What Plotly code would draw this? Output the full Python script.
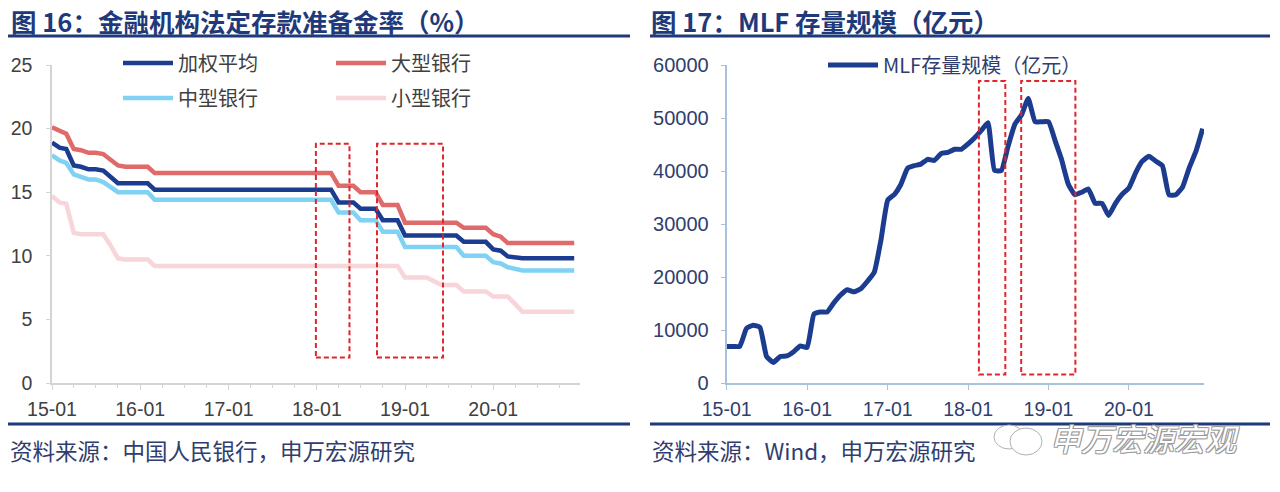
import pandas as pd
import plotly.graph_objects as go

# monthly, 2015-01 .. 2020-12
months = pd.date_range("2015-01-01", periods=72, freq="MS")

# 法定存款准备金率 (%)
rrr_avg = [18.9, 18.5, 18.4, 17.1, 17.0, 16.8, 16.8, 16.7, 16.2, 15.7, 15.7, 15.7, 15.7, 15.7,
           15.2, 15.2, 15.2, 15.2, 15.2, 15.2, 15.2, 15.2, 15.2, 15.2, 15.2, 15.2, 15.2, 15.2,
           15.2, 15.2, 15.2, 15.2, 15.2, 15.2, 15.2, 15.2, 15.2, 15.2, 15.2, 14.2, 14.2, 14.2,
           13.7, 13.7, 13.7, 12.8, 12.8, 12.8, 11.6, 11.6, 11.6, 11.6, 11.6, 11.6, 11.6, 11.6,
           11.1, 11.1, 11.1, 11.1, 10.5, 10.4, 9.95, 9.85, 9.8, 9.8, 9.8, 9.8, 9.8, 9.8, 9.8, 9.8]
rrr_large = [20.1, 19.8, 19.6, 18.4, 18.3, 18.1, 18.1, 18.0, 17.5, 17.1, 17.0, 17.0, 17.0, 17.0,
             16.5, 16.5, 16.5, 16.5, 16.5, 16.5, 16.5, 16.5, 16.5, 16.5, 16.5, 16.5, 16.5, 16.5,
             16.5, 16.5, 16.5, 16.5, 16.5, 16.5, 16.5, 16.5, 16.5, 16.5, 16.5, 15.5, 15.5, 15.5,
             15.0, 15.0, 15.0, 14.0, 14.0, 14.0, 12.6, 12.6, 12.6, 12.6, 12.6, 12.6, 12.6, 12.6,
             12.2, 12.2, 12.2, 12.2, 11.7, 11.5, 11.0, 11.0, 11.0, 11.0, 11.0, 11.0, 11.0, 11.0, 11.0, 11.0]
rrr_mid = [17.9, 17.5, 17.3, 16.4, 16.2, 16.0, 16.0, 15.8, 15.4, 15.0, 15.0, 15.0, 15.0, 15.0,
           14.4, 14.4, 14.4, 14.4, 14.4, 14.4, 14.4, 14.4, 14.4, 14.4, 14.4, 14.4, 14.4, 14.4,
           14.4, 14.4, 14.4, 14.4, 14.4, 14.4, 14.4, 14.4, 14.4, 14.4, 14.4, 13.4, 13.4, 13.4,
           12.8, 12.8, 12.8, 11.9, 11.9, 11.9, 10.7, 10.7, 10.7, 10.7, 10.7, 10.7, 10.7, 10.7,
           10.0, 10.0, 10.0, 10.0, 9.5, 9.4, 9.1, 8.95, 8.85, 8.85, 8.85, 8.85, 8.85, 8.85, 8.85, 8.85]
rrr_small = [14.7, 14.2, 14.1, 11.8, 11.7, 11.7, 11.7, 11.7, 10.8, 9.8, 9.7, 9.7, 9.7, 9.7,
             9.2, 9.2, 9.2, 9.2, 9.2, 9.2, 9.2, 9.2, 9.2, 9.2, 9.2, 9.2, 9.2, 9.2,
             9.2, 9.2, 9.2, 9.2, 9.2, 9.2, 9.2, 9.2, 9.2, 9.2, 9.2, 9.2, 9.2, 9.2,
             9.2, 9.2, 9.2, 9.2, 9.2, 9.2, 8.3, 8.3, 8.3, 8.3, 8.0, 7.7, 7.7, 7.7,
             7.2, 7.2, 7.2, 7.2, 6.8, 6.8, 6.8, 6.2, 5.6, 5.6, 5.6, 5.6, 5.6, 5.6, 5.6, 5.6]

# MLF 存量规模 (亿元)
mlf = [6870, 6900, 6900, 10300, 10900, 10500, 5000, 3870, 5000, 5100,
       5900, 7000, 6700, 13000, 13400, 13400, 15100, 16600, 17600, 17200,
       17800, 19200, 20900, 26900, 34500, 35600, 37400, 40500, 41000, 41300,
       42200, 42000, 43300, 43500, 44100, 44100, 45100, 46300, 47600, 49100,
       40100, 40100, 44600, 48800, 50600, 53700, 49300, 49300, 49300, 45600,
       42200, 37500, 35500, 36000, 36600, 33900, 33900, 31600, 33900, 35600,
       36800, 39700, 41800, 42800, 41900, 41000, 35500, 35500, 37000, 40600,
       43800, 48000]

# highlighted periods (dashed boxes)
left_boxes = [("2017-12-28", "2018-05-16"), ("2018-09-07", "2019-06-07")]
right_boxes = [("2018-02-19", "2018-06-19"), ("2018-08-30", "2019-05-03")]

NAVY = "#1F3A7A"
TXT = "#404040"
SLATE = "#2F3E6E"
FONT = "Liberation Sans, Arial, Noto Sans CJK SC, sans-serif"
CJK = "Noto Sans CJK SC, sans-serif"

W, H = 1280, 492
OFF = 8  # the page body adds an 8px margin, so layout is placed 8px up/left


def px(x):
    return (x - OFF) / W


def py(y):
    return 1 - (y - OFF) / H


fig = go.Figure()

left_series = [
    ("加权平均", rrr_avg, "#1C3D8F", "legend"),
    ("大型银行", rrr_large, "#E06A6A", "legend"),
    ("中型银行", rrr_mid, "#7FD2F3", "legend2"),
    ("小型银行", rrr_small, "#F7D5D8", "legend2"),
]
for name, vals, color, lg in left_series:
    fig.add_trace(go.Scatter(x=months, y=vals, name=name, mode="lines",
                             line=dict(color=color, width=4.5),
                             xaxis="x", yaxis="y", legend=lg))

fig.add_trace(go.Scatter(x=months, y=mlf, name="MLF存量规模（亿元）", mode="lines",
                         line=dict(color="#1C3D8F", width=5, shape="spline", smoothing=0.4),
                         xaxis="x2", yaxis="y2", legend="legend3"))

ydom = [py(383), py(65)]
fig.update_layout(
    width=W, height=H,
    margin=dict(l=0, r=0, t=0, b=0, autoexpand=False),
    paper_bgcolor="white", plot_bgcolor="white",
    font=dict(family=FONT, color=TXT),
    xaxis=dict(domain=[px(52), px(580)], type="date", automargin=False,
               range=["2015-01-01", "2020-12-25"],
               dtick="M12", tick0="2015-01-01", tickformat="%y-%m",
               showgrid=False, zeroline=False,
               showline=True, linecolor="#D4D4D4", linewidth=1.5,
               ticks="outside", ticklen=5, tickcolor="#D4D4D4",
               minor=dict(dtick="M3", ticks="outside", ticklen=3, tickcolor="#D4D4D4"),
               tickfont=dict(size=19.5, color=TXT), ticklabelstandoff=3),
    yaxis=dict(domain=ydom, range=[0, 25], dtick=5, automargin=False,
               showgrid=False, zeroline=False,
               showline=True, linecolor="#D4D4D4", linewidth=1.5,
               ticks="outside", ticklen=4, tickcolor="#D4D4D4",
               tickfont=dict(size=19.5, color=TXT), ticklabelstandoff=10),
    xaxis2=dict(domain=[px(726.7), px(1204)], type="date", automargin=False,
                range=["2015-01-01", "2020-12-07"],
                dtick="M12", tick0="2015-01-01", tickformat="%y-%m",
                showgrid=False, zeroline=False, anchor="y2",
                showline=True, linecolor="#A9C1DC", linewidth=2,
                ticks="outside", ticklen=5, tickcolor="#A9C1DC",
                tickfont=dict(size=19.5, color=SLATE), ticklabelstandoff=3),
    yaxis2=dict(domain=ydom, range=[0, 60000], dtick=10000, anchor="x2", automargin=False,
                tickformat="d",
                showgrid=False, zeroline=False,
                showline=True, linecolor="#A9C1DC", linewidth=2,
                ticks="outside", ticklen=4, tickcolor="#A9C1DC",
                tickfont=dict(size=20, color=SLATE), ticklabelstandoff=8),
    legend=dict(orientation="h", x=px(118), y=py(63), yanchor="middle",
                entrywidth=148, entrywidthmode="pixels", itemwidth=50,
                font=dict(family=CJK, size=20, color=TXT), bgcolor="rgba(0,0,0,0)"),
    legend2=dict(orientation="h", x=px(118), y=py(98), yanchor="middle",
                 entrywidth=148, entrywidthmode="pixels", itemwidth=50,
                 font=dict(family=CJK, size=20, color=TXT), bgcolor="rgba(0,0,0,0)"),
    legend3=dict(orientation="h", x=px(823), y=py(65), yanchor="middle",
                 itemwidth=50,
                 font=dict(family=CJK, size=20, color=SLATE), bgcolor="rgba(0,0,0,0)"),
)

shapes = []
box_line = dict(color="#E0262C", width=2, dash="5px,3px")
for x0, x1 in left_boxes:
    shapes.append(dict(type="rect", xref="x", yref="y", x0=x0, x1=x1, y0=2.0, y1=18.8,
                       line=box_line))
for x0, x1 in right_boxes:
    shapes.append(dict(type="rect", xref="x2", yref="y2", x0=x0, x1=x1, y0=1600, y1=57000,
                       line=box_line))
# header / footer rules
for xa, xb in [(8, 630), (650, 1270)]:
    for yy in (36, 424):
        shapes.append(dict(type="line", xref="paper", yref="paper",
                           x0=px(xa), x1=px(xb), y0=py(yy), y1=py(yy),
                           line=dict(color=NAVY, width=3)))
# wechat-like bubbles behind the watermark
shapes.append(dict(type="circle", xref="paper", yref="paper",
                   x0=px(994), x1=px(1024), y0=py(449), y1=py(425),
                   fillcolor="white", line=dict(color="#B0B0B0", width=1)))
shapes.append(dict(type="circle", xref="paper", yref="paper",
                   x0=px(1010), x1=px(1042), y0=py(455), y1=py(428),
                   fillcolor="white", line=dict(color="#B0B0B0", width=1)))
fig.update_layout(shapes=shapes)

outline = "-1px -1px 0 #9A9A9A, 1px -1px 0 #9A9A9A, -1px 1px 0 #9A9A9A, 1px 1px 0 #9A9A9A"
annotations = [
    dict(text="<b>图 16：金融机构法定存款准备金率（%）</b>", x=px(9), y=py(20),
         font=dict(family=CJK, size=25.5, color=NAVY)),
    dict(text="<b>图 17：MLF 存量规模（亿元）</b>", x=px(649), y=py(20),
         font=dict(family=CJK, size=25.5, color=NAVY)),
    dict(text="资料来源：中国人民银行，申万宏源研究", x=px(8), y=py(450),
         font=dict(family=CJK, size=22.5, color=SLATE)),
    dict(text="资料来源：Wind，申万宏源研究", x=px(650), y=py(450),
         font=dict(family=CJK, size=22.5, color=SLATE)),
    dict(text="<i>申万宏源宏观</i>", x=px(1048), y=py(437),
         font=dict(family=CJK, size=31, color="white", shadow=outline)),
]
for a in annotations:
    a.update(xref="paper", yref="paper", xanchor="left", yanchor="middle", showarrow=False)
fig.update_layout(annotations=annotations)

fig.write_html("out.html")
